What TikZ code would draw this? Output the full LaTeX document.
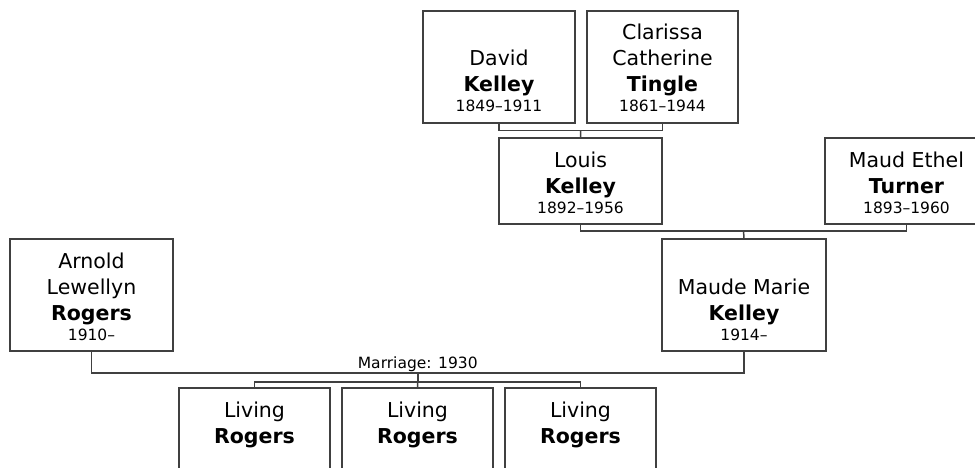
\documentclass[tikz,border=0pt]{standalone}
\usepackage{fontspec}
\setmainfont{DejaVu Sans}
\usepackage{tikz}
\usetikzlibrary{positioning}

\newcommand{\namesize}{\fontsize{20.5}{26}\selectfont}
\newcommand{\datesize}{\fontsize{15.5}{20}\selectfont}
% box of width #1 and height #2, text sits on the bottom
\newcommand{\card}[3]{\parbox[c][\dimexpr#2-11pt\relax][b]{#1}{\centering #3\rule[-11pt]{0pt}{11pt}}}
\newcommand{\who}[3]{#1\\\textbf{#2}\\[-6pt]{\datesize #3}}

\begin{document}
\begin{tikzpicture}[
    x=1pt, y=-1pt,
    person/.style={draw=black!75, line width=1.5pt, fill=white, inner sep=0pt, font=\namesize},
    link/.style={draw=black!75, line width=1.5pt},
    lbl/.style={font=\datesize, inner sep=0.5pt}
]
\useasboundingbox (0,0) rectangle (975,468);

% grandparents
\node[person] (david) at (499,67) {\card{152pt}{112pt}{\who{David}{Kelley}{1849–1911}}};
\node[person] (clarissa) at (662.5,67) {\card{151pt}{112pt}{\who{Clarissa\\Catherine}{Tingle}{1861–1944}}};

% parents of Maude
\node[person] (louis) at (580.5,181) {\card{163pt}{86pt}{\who{Louis}{Kelley}{1892–1956}}};
\node[person] (turner) at (906.5,181) {\card{163pt}{86pt}{\who{Maud Ethel}{Turner}{1893–1960}}};

% couple
\node[person] (arnold) at (91.5,295) {\card{163pt}{112pt}{\who{Arnold\\Lewellyn}{Rogers}{1910–}}};
\node[person] (maude) at (744,295) {\card{164pt}{112pt}{\who{Maude Marie}{Kelley}{1914–}}};

% children
\node[person] (living1) at (254.5,431) {\card{151pt}{86pt}{\who{Living}{Rogers}{}}};
\node[person] (living2) at (417.5,431) {\card{151pt}{86pt}{\who{Living}{Rogers}{}}};
\node[person] (living3) at (580.5,431) {\card{151pt}{86pt}{\who{Living}{Rogers}{}}};

\draw[link] (david.south) -- ++(0,7) -| coordinate[pos=0.25] (kt) (clarissa.south);
\draw[link] (kt) -- (louis.north);
\draw[link] (louis.south) -- ++(0,6) -| coordinate[pos=0.25] (kt2) (turner.south);
\draw[link] (kt2) -- (maude.north);
\draw[link] (arnold.south) -- ++(0,21) -| coordinate[pos=0.25] (wed)
    node[lbl, pos=0.25, above] (marriage) {Marriage: 1930} (maude.south);
\draw[link] (wed) -- ++(0,9) coordinate (kids);
\draw[link] (living1.north) |- (kids) -| (living3.north);
\draw[link] (kids) -- (living2.north);
\end{tikzpicture}
\end{document}
